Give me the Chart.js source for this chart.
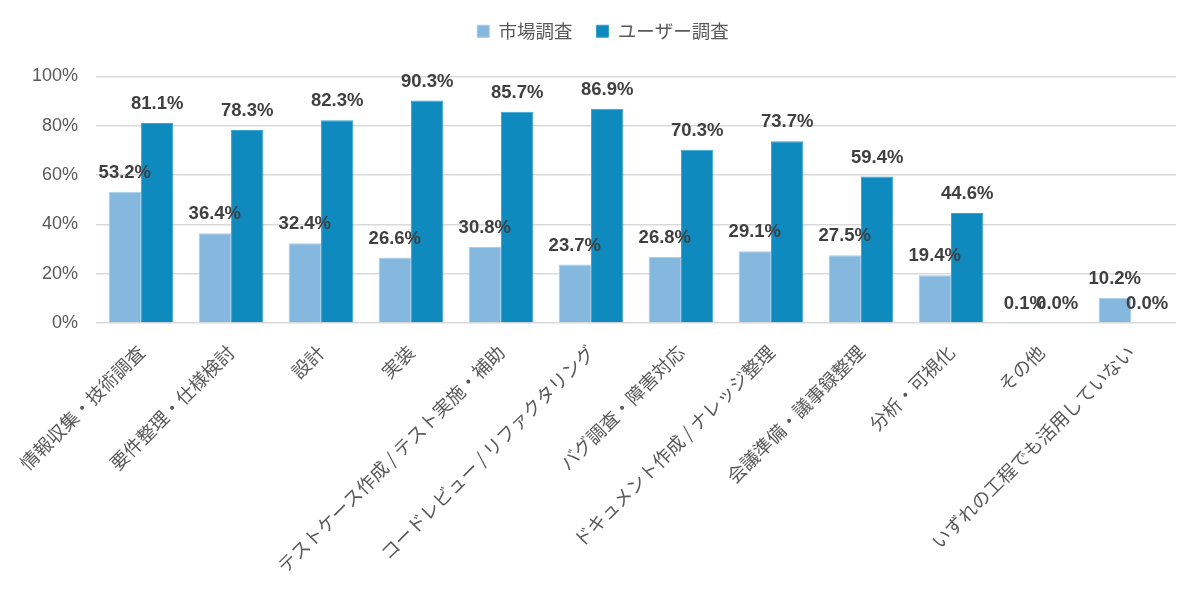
<!DOCTYPE html>
<html>
<head>
<meta charset="utf-8">
<script src="https://cdn.jsdelivr.net/npm/chart.js@4/dist/chart.umd.min.js"></script>
<style>
html,body{margin:0;padding:0;background:#fff;}
#wrap{width:1200px;height:602px;position:relative;}
</style>
</head>
<body>
<div id="wrap"><canvas id="c" width="1200" height="602"></canvas></div>
<script>
const categories = [
  "情報収集・技術調査",
  "要件整理・仕様検討",
  "設計",
  "実装",
  "テストケース作成 / テスト実施・補助",
  "コードレビュー / リファクタリング",
  "バグ調査・障害対応",
  "ドキュメント作成 / ナレッジ整理",
  "会議準備・議事録整理",
  "分析・可視化",
  "その他",
  "いずれの工程でも活用していない"
];
const seriesNames = ["市場調査", "ユーザー調査"];
const marketSurvey = [53.2, 36.4, 32.4, 26.6, 30.8, 23.7, 26.8, 29.1, 27.5, 19.4, 0.1, 10.2];
const userSurvey   = [81.1, 78.3, 82.3, 90.3, 85.7, 86.9, 70.3, 73.7, 59.4, 44.6, 0.0, 0.0];
const yTicks = [0, 20, 40, 60, 80, 100];

const labelPlugin = {
  id: 'valueLabels',
  afterDatasetsDraw(chart) {
    const ctx = chart.ctx;
    ctx.save();
    ctx.font = 'bold 18.5px "Liberation Sans", Arial, sans-serif';
    ctx.fillStyle = '#404040';
    ctx.textAlign = 'center';
    ctx.textBaseline = 'middle';
    chart.data.datasets.forEach((ds, i) => {
      const meta = chart.getDatasetMeta(i);
      meta.data.forEach((bar, j) => {
        const v = ds.data[j];
        ctx.fillText(v.toFixed(1) + '%', bar.x, bar.y - 19);
      });
    });
    ctx.restore();
  }
};

const legendSpace = {
  id: 'legendSpace',
  beforeInit(chart) {
    const lg = chart.legend;
    if (lg) {
      const orig = lg.fit;
      lg.fit = function() { orig.call(this); this.height += 26; };
    }
  },
  afterLayout(chart) {
    const lg = chart.legend;
    if (lg) { lg.left += 8; lg.right += 8; }
  }
};

new Chart(document.getElementById('c'), {
  type: 'bar',
  data: {
    labels: categories,
    datasets: [
      { label: seriesNames[0], data: marketSurvey, backgroundColor: '#85b8de', borderColor: '#a8cde9', borderWidth: 1 },
      { label: seriesNames[1], data: userSurvey, backgroundColor: '#0e8abf', borderColor: '#3aa2cf', borderWidth: 1 }
    ]
  },
  options: {
    responsive: false,
    animation: false,
    devicePixelRatio: 1,
    layout: { padding: { top: -2, left: 14, right: 24, bottom: 15 } },
    datasets: { bar: { categoryPercentage: 0.72, barPercentage: 1.0 } },
    plugins: {
      legend: {
        position: 'top',
        labels: {
          boxWidth: 12, boxHeight: 12, padding: 24,
          color: '#595959',
          font: { family: '"Noto Sans CJK JP", sans-serif', size: 18.5 }
        }
      },
      tooltip: { enabled: false }
    },
    scales: {
      x: {
        grid: { display: false },
        border: { display: false },
        ticks: {
          autoSkip: false, maxRotation: 45, minRotation: 45,
          color: '#595959', padding: 10,
          font: { family: '"Noto Sans CJK JP", sans-serif', size: 18.5 }
        }
      },
      y: {
        min: 0, max: 100,
        afterBuildTicks(axis) { axis.ticks = yTicks.map(v => ({ value: v })); },
        grid: { color: '#d9d9d9', lineWidth: 1.5, drawTicks: false },
        border: { display: false },
        ticks: {
          color: '#595959', padding: 18,
          font: { family: '"Liberation Sans", Arial, sans-serif', size: 18 },
          callback: v => v + '%'
        }
      }
    }
  },
  plugins: [labelPlugin, legendSpace]
});
</script>
</body>
</html>
